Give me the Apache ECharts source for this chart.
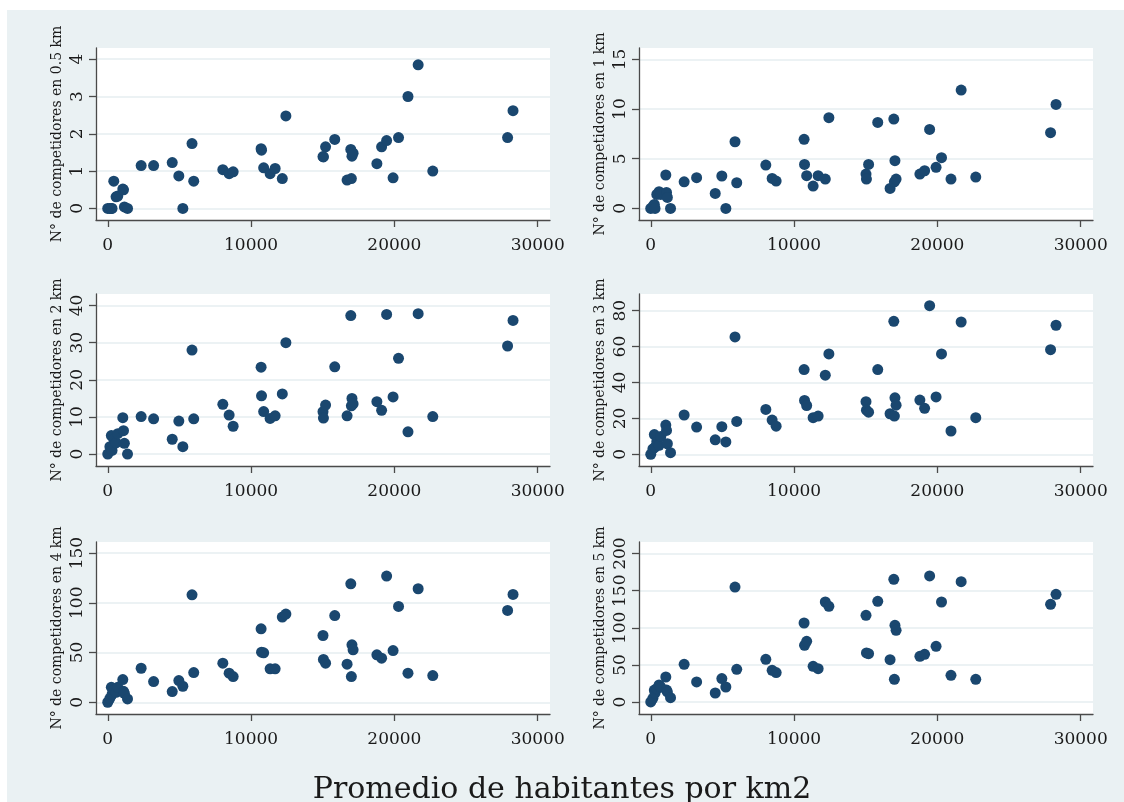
<!DOCTYPE html>
<html>
<head>
<meta charset="utf-8">
<script src="https://cdn.jsdelivr.net/npm/echarts@6/dist/echarts.min.js"></script>
<style>
body { margin: 0; background: #fff; }
#bg { position: absolute; left: 7px; top: 10px; width: 1117px; height: 792px; background: #eaf1f3; }
#main { position: absolute; left: 0; top: 0; width: 1124px; height: 802px; }
</style>
</head>
<body>
<div id="bg"></div>
<div id="main"></div>
<script>
// promedio de habitantes por km2 (eje x, igual en los 6 paneles)
var densidad = [0, 150, 250, 300, 420, 580, 700, 1050, 1100, 1160, 1380,
    2330, 3200, 4500, 4960, 5240, 5880, 6000, 8030, 8470, 8750,
    10700, 10730, 10880, 11330, 11680, 12180, 12430, 15020, 15050, 15200,
    15840, 16700, 16960, 17000, 17040, 17120, 18780, 19110, 19460, 19910,
    20290, 20950, 21660, 22680, 27900, 28280];

// nº de competidores por radio
var comp05 = [0, 0, 0, 0, 0.73, 0.31, 0.33, 0.52, 0.5, 0.04, 0,
    1.15, 1.15, 1.23, 0.87, 0, 1.74, 0.73, 1.04, 0.93, 0.98,
    1.60, 1.56, 1.09, 0.93, 1.07, 0.80, 2.48, 1.39, 1.38, 1.65,
    1.85, 0.76, 1.58, 0.80, 1.40, 1.48, 1.20, 1.65, 1.82, 0.82,
    1.90, 3.0, 3.85, 1.0, 1.9, 2.62];
var comp1 = [0, 0.2, 0.4, 0, 1.41, 1.68, 1.4, 3.36, 1.6, 1.1, 0,
    2.68, 3.09, 1.51, 3.26, 0, 6.71, 2.58, 4.36, 3.02, 2.75,
    6.95, 4.43, 3.29, 2.25, 3.29, 2.95, 9.13, 3.46, 2.95, 4.43,
    8.66, 2.01, 8.99, 2.68, 4.8, 2.95, 3.46, 3.79, 7.95, 4.13,
    5.1, 2.95, 11.91, 3.15, 7.62, 10.47];
var comp2 = [0, 2, 5, 1, 4, 3, 5.5, 9.8, 6.3, 2.9, 0,
    10.1, 9.5, 4.0, 8.9, 2.0, 28.0, 9.5, 13.4, 10.5, 7.5,
    23.4, 15.7, 11.45, 9.6, 10.3, 16.2, 30.0, 11.4, 9.7, 13.2,
    23.5, 10.3, 37.3, 13.0, 15.0, 13.5, 14.1, 11.8, 37.6, 15.4,
    25.8, 6.0, 37.8, 10.1, 29.1, 36.0];
var comp3 = [0, 3, 11, 4, 7, 5, 10, 16.3, 13.3, 5.9, 0.9,
    21.9, 15.2, 8.1, 15.4, 6.9, 65.4, 18.3, 25, 19.1, 15.7,
    47.2, 30, 27.2, 20.4, 21.3, 44.1, 55.9, 29.3, 24.6, 23.5,
    47.2, 22.6, 74.1, 21.3, 31.5, 27.4, 30.2, 25.6, 82.8, 32.0,
    55.9, 13.0, 73.7, 20.4, 58.3, 71.9];
var comp4 = [0, 4, 15, 8, 12, 10, 15, 22.8, 11, 9, 3.4,
    34.2, 20.8, 10.7, 21.8, 16.1, 108, 29.9, 39.3, 29.2, 25.8,
    73.8, 50.3, 49.7, 33.6, 33.6, 85.6, 88.6, 67.1, 43, 39.3,
    87.2, 38.3, 119.1, 25.8, 57.7, 52.7, 47.7, 44.3, 126.8, 52.0,
    96.3, 29.2, 114.1, 26.8, 92.3, 108.4];
var comp5 = [0, 5, 16, 12, 18, 23, 20, 33.7, 16, 13.5, 5.8,
    50.8, 27.0, 12.1, 31.5, 20.2, 155, 44, 57.5, 42.7, 39.6,
    106.5, 76.4, 81.8, 48.1, 44.9, 134.8, 129, 116.9, 66.1, 65.2,
    135.7, 57.1, 165.4, 30.6, 103.4, 96.6, 61.6, 64.3, 169.9, 75.1,
    134.8, 36.0, 162.2, 30.6, 131.7, 145.2];

var xTicks = [0, 10000, 20000, 30000];
var radios = ['0.5', '1', '2', '3', '4', '5'];
var yTicks = [
    [0, 1, 2, 3, 4],
    [0, 5, 10, 15],
    [0, 10, 20, 30, 40],
    [0, 20, 40, 60, 80],
    [0, 50, 100, 150],
    [0, 50, 100, 150, 200]
];
var series = [comp05, comp1, comp2, comp3, comp4, comp5];

// rango de cada eje y (estilo stata, un poco más allá de los datos)
var yMin = [-0.31, -1.17, -3.2, -6.5, -11.8, -16.2];
var yMax = [4.3, 16.15, 43.1, 89.3, 161.1, 215.7];

var lefts = [96, 639];
var tops = [48, 294, 542];
var font = 'DejaVu Serif';
var ink = '#1a1a1a';
var axisCol = '#4a4a4a';

function plain(v) { return String(v); } // sin separador de miles

var option = { animation: false, grid: [], xAxis: [], yAxis: [], series: [] };

for (var i = 0; i < 6; i++) {
    var col = i % 2, row = Math.floor(i / 2);
    option.grid.push({
        left: lefts[col], top: tops[row], width: 454, height: 172,
        show: true, backgroundColor: '#fff', borderWidth: 0
    });
    option.xAxis.push({
        gridIndex: i, type: 'value', min: -820, max: 30860,
        axisLine: { onZero: false, lineStyle: { color: axisCol, width: 1.3 } },
        axisTick: { customValues: xTicks, length: 7, lineStyle: { color: axisCol, width: 1.3 } },
        axisLabel: { customValues: xTicks, formatter: plain, margin: 17, fontFamily: font, fontSize: 17, color: ink },
        splitLine: { show: false }
    });
    option.yAxis.push({
        gridIndex: i, type: 'value', min: yMin[i], max: yMax[i],
        name: 'N° de competidores en ' + radios[i] + ' km',
        nameLocation: 'middle', nameGap: 32, nameMoveOverlap: false,
        nameTextStyle: { fontFamily: font, fontSize: 14, color: ink },
        axisLine: { show: true, onZero: false, lineStyle: { color: axisCol, width: 1.3 } },
        axisTick: { show: true, customValues: yTicks[i], length: 7, lineStyle: { color: axisCol, width: 1.3 } },
        axisLabel: { customValues: yTicks[i], formatter: plain, rotate: 90, margin: 10, fontFamily: font, fontSize: 17, color: ink },
        splitLine: { show: true, lineStyle: { color: '#e6eef1', width: 1.6 } }
    });
    var vals = series[i];
    option.series.push({
        type: 'scatter', xAxisIndex: i, yAxisIndex: i,
        symbol: 'circle', symbolSize: 11,
        itemStyle: { color: '#1a476f', opacity: 1 },
        data: densidad.map(function (x, j) { return [x, vals[j]]; })
    });
}

option.graphic = [{
    type: 'text', left: 'center', top: 775,
    style: { text: 'Promedio de habitantes por km2', font: '30px "DejaVu Serif"', fill: ink }
}];

var myChart = echarts.init(document.getElementById('main'));
myChart.setOption(option);
</script>
</body>
</html>
